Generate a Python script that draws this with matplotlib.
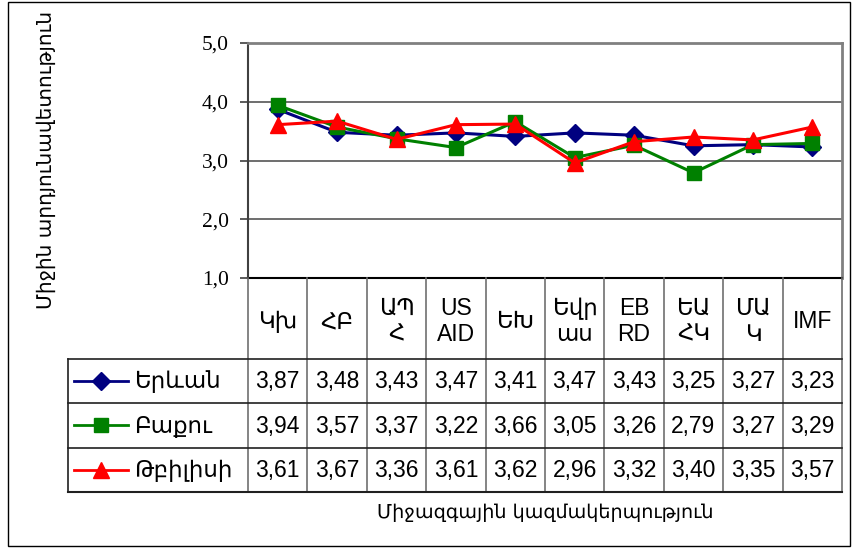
import matplotlib
matplotlib.use("Agg")
import matplotlib.pyplot as plt
from matplotlib.patches import Rectangle

categories = ["Կխ", "ՀԲ", "ԱՊ\nՀ", "US\nAID", "ԵԽ", "Եվր\nաս", "EB\nRD", "ԵԱ\nՀԿ", "ՄԱ\nԿ", "IMF"]
series_names = ["Երևան", "Բաքու", "Թբիլիսի"]
yerevan = [3.87, 3.48, 3.43, 3.47, 3.41, 3.47, 3.43, 3.25, 3.27, 3.23]
baku = [3.94, 3.57, 3.37, 3.22, 3.66, 3.05, 3.26, 2.79, 3.27, 3.29]
tbilisi = [3.61, 3.67, 3.36, 3.61, 3.62, 2.96, 3.32, 3.40, 3.35, 3.57]
yticks = [1.0, 2.0, 3.0, 4.0, 5.0]
ytick_labels = ["1,0", "2,0", "3,0", "4,0", "5,0"]
ylabel = "Միջին արդյունավետություն"
xlabel = "Միջազգային կազմակերպություն"

series = [yerevan, baku, tbilisi]
colors = ["#000080", "#008000", "#FF0000"]
markers = ["D", "s", "^"]
msizes = [9, 10, 11]

W, H = 852, 548
fig = plt.figure(figsize=(W / 100, H / 100), dpi=100)

def fx(px):
    return px / W

def fy(py):
    return 1 - py / H

# outer border
fig.add_artist(Rectangle((fx(8), fy(546)), fx(850) - fx(8), fy(2) - fy(546),
                         transform=fig.transFigure, fill=False, edgecolor="black", lw=1.0))

# plot axes
L, R, T, B = 248, 842, 43, 278
ax = fig.add_axes([fx(L), fy(B), fx(R) - fx(L), fy(T) - fy(B)])
n = len(categories)
xs = list(range(n))
for vals, c, m, ms in zip(series, colors, markers, msizes):
    ax.plot(xs, vals, color=c, lw=2.2, marker=m, markersize=ms, markeredgecolor=c,
            markerfacecolor=c, zorder=3)
ax.set_xlim(-0.5, n - 0.5)
ax.set_ylim(1.0, 5.0)
ax.set_yticks(yticks)
ax.set_yticklabels(ytick_labels, fontfamily="Liberation Serif", fontsize=15.5)
ax.set_xticks([])
for yv in yticks[1:-1]:
    ax.axhline(yv, color="#555555", lw=1.2, zorder=1)
ax.spines["left"].set_color("#404040")
ax.spines["left"].set_linewidth(1.5)
ax.spines["bottom"].set_color("black")
ax.spines["bottom"].set_linewidth(1.5)
ax.spines["top"].set_color("#808080")
ax.spines["top"].set_linewidth(2)
ax.spines["right"].set_color("#808080")
ax.spines["right"].set_linewidth(2)
ax.tick_params(axis="y", direction="out", length=6, width=1.2, pad=8, color="#404040")

# data table axes (pixel coordinates)
TL, TT, TB = 68, 278, 492
tax = fig.add_axes([fx(TL), fy(TB), fx(R) - fx(TL), fy(TT) - fy(TB)])
tax.set_xlim(TL, R)
tax.set_ylim(TB, TT)
tax.axis("off")
colw = (R - L) / n
rows = [(278, 359), (359, 403), (403, 448), (448, 492)]

for i in range(n + 1):
    x = L + i * colw
    tax.plot([x, x], [TT, TB], color="#707070", lw=1.2, clip_on=False)
for (y0, y1) in rows[1:]:
    tax.plot([TL, R], [y0, y0], color="#202020", lw=1.2, clip_on=False)
tax.plot([TL, R], [TB, TB], color="#202020", lw=1.5, clip_on=False)
tax.plot([TL, TL], [rows[1][0], TB], color="#202020", lw=1.2, clip_on=False)

txt_font = ["Liberation Sans", "DejaVu Sans"]
for i, cat in enumerate(categories):
    cx = L + (i + 0.5) * colw
    cy = (rows[0][0] + rows[0][1]) / 2 + 3
    tax.text(cx, cy, cat, ha="center", va="center", fontsize=16.5, family=txt_font,
             linespacing=1.15)

for r, (name, vals, c, m, ms) in enumerate(zip(series_names, series, colors, markers, msizes)):
    y0, y1 = rows[r + 1]
    cy = (y0 + y1) / 2
    tax.plot([74, 128], [cy, cy], color=c, lw=2, clip_on=False)
    tax.plot([101], [cy], marker=m, color=c, markersize=ms, clip_on=False)
    tax.text(134, cy + 1, name, ha="left", va="center", fontsize=16.5, family=txt_font)
    for i, v in enumerate(vals):
        cx = L + (i + 0.5) * colw
        tax.text(cx, cy + 1, f"{v:.2f}".replace(".", ","), ha="center", va="center",
                 fontsize=16.5, family=txt_font)

fig.text(fx((L + R) / 2), fy(513), xlabel, ha="center", va="center", fontsize=13.8,
         family=["DejaVu Sans"])
fig.text(fx(46), fy(160), ylabel, ha="center", va="center", rotation=90, fontsize=14.5,
         family=["DejaVu Sans"])

fig.savefig("out.png", dpi=100, facecolor="white")
